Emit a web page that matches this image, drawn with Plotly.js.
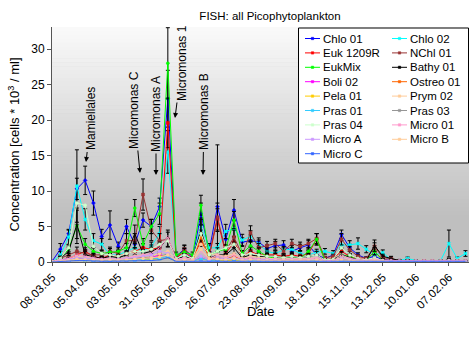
<!DOCTYPE html>
<html><head><meta charset="utf-8">
<script src="https://cdn.plot.ly/plotly-3.0.1.min.js"></script>
<style>html,body{margin:0;padding:0;background:#fff}#chart{width:471px;height:338px}</style>
</head><body><div id="chart"></div>
<script>
const dates = ['2005-03-08','2005-03-15','2005-03-22','2005-03-29','2005-04-05','2005-04-12','2005-04-19','2005-04-26','2005-05-03','2005-05-10',
'2005-05-17','2005-05-24','2005-05-31','2005-06-07','2005-06-14','2005-06-21','2005-06-28','2005-07-05','2005-07-12','2005-07-19',
'2005-07-26','2005-08-02','2005-08-09','2005-08-16','2005-08-23','2005-08-30','2005-09-06','2005-09-13','2005-09-20','2005-09-27',
'2005-10-04','2005-10-11','2005-10-18','2005-10-25','2005-11-01','2005-11-08','2005-11-15','2005-11-22','2005-11-29','2005-12-06',
'2005-12-13','2005-12-20','2005-12-27','2006-01-03','2006-01-10','2006-01-17','2006-01-24','2006-01-31','2006-02-07','2006-02-14',
'2006-02-21'];

const seriesNames = ['Chlo 01','Chlo 02','Euk 1209R','NChl 01','EukMix','Bathy 01','Boli 02','Ostreo 01','Pela 01','Prym 02','Pras 01','Pras 03','Pras 04','Micro 01','Micro A','Micro B','Micro C'];

const chlo01 = [0.1,1.8,4.0,10.3,11.5,8.3,3.6,5.2,2.2,5.0,
 2.5,5.9,5.0,7.8,23.0,0.8,1.8,0.5,6.8,1.5,
 7.8,3.2,7.3,2.8,3.0,2.8,1.9,2.3,2.4,1.5,
 2.0,2.4,1.0,0.5,1.0,3.9,2.0,1.0,0.5,0.8,
 0.3,0.2,0.1,0.1,0.1,0.1,0.1,0.1,0.2,0.1,
 0.1];
const chlo02 = [0.0,1.0,3.5,10.7,6.0,3.0,2.5,1.0,1.0,1.5,
 2.0,1.5,2.2,4.0,15.5,0.5,1.0,0.5,5.0,2.0,
 2.0,4.3,4.7,3.1,3.6,2.5,1.5,1.2,1.7,1.8,
 1.2,1.0,1.4,1.5,1.2,2.4,2.4,2.6,1.8,1.0,
 1.3,0.3,0.2,0.5,0.2,0.1,0.1,0.2,2.6,0.5,
 1.2];
const euk1209r = [0.0,0.3,0.5,1.0,1.5,0.8,0.5,1.0,0.8,1.2,
 1.5,2.0,1.8,2.0,19.6,0.5,1.5,0.4,3.0,0.8,
 6.0,1.2,2.8,0.8,1.5,1.0,1.0,1.0,0.8,1.0,
 0.8,1.2,3.2,0.3,0.5,1.5,0.8,0.5,0.3,1.5,
 0.3,0.2,0.1,0.1,0.1,0.1,0.1,0.1,0.1,0.1,
 0.1];
const nchl01 = [0.0,0.5,1.0,1.5,1.2,1.0,1.0,1.5,1.2,3.0,
 3.0,9.5,4.5,3.0,3.2,0.5,1.8,0.8,4.0,1.0,
 6.3,1.5,3.5,1.0,4.1,2.0,2.3,2.6,1.5,2.6,
 2.2,2.6,3.3,0.6,0.8,3.2,1.7,0.8,0.5,2.2,
 0.6,0.5,0.2,0.2,0.1,0.1,0.1,0.1,0.2,0.1,
 0.1];
const eukmix = [0.0,0.5,1.8,5.1,2.5,1.5,1.2,1.4,1.5,2.0,
 7.6,2.5,5.0,6.8,28.0,1.0,1.4,1.0,8.0,1.0,
 1.5,1.8,5.9,1.2,2.3,1.5,0.8,0.5,0.5,0.8,
 0.5,1.5,3.2,0.3,0.3,1.0,0.8,0.3,0.2,1.5,
 0.2,0.1,0.1,0.1,0.1,0.1,0.1,0.1,0.1,0.1,
 0.1];
const bathy01 = [0.0,0.5,1.5,5.3,1.0,0.8,0.5,0.8,0.6,1.0,
 4.0,1.2,1.5,2.0,3.3,0.4,0.8,0.4,4.5,0.5,
 1.0,1.0,2.0,0.6,1.0,0.8,0.8,0.8,0.6,0.8,
 0.6,0.8,1.0,0.3,0.3,1.0,0.6,0.3,0.2,2.3,
 0.8,0.5,0.2,0.2,0.1,0.1,0.1,0.1,0.3,0.1,
 0.1];
const boli02 = [0.0,0.1,0.2,0.5,0.4,0.3,0.2,0.3,0.2,0.3,
 0.4,0.5,0.6,1.0,0.8,0.2,0.3,0.2,0.6,0.2,
 0.4,0.3,0.5,0.2,0.3,0.2,0.2,0.2,0.2,0.2,
 0.2,0.2,0.3,0.1,0.1,0.3,0.2,0.1,0.1,0.2,
 0.1,0.1,0.0,0.0,0.0,0.0,0.0,0.0,0.1,0.0,
 0.0];
const ostreo01 = [0.0,0.1,0.2,0.4,0.3,0.2,0.2,0.3,0.2,0.4,
 0.5,0.6,0.5,0.8,1.0,0.2,0.4,0.3,3.5,0.5,
 0.6,0.4,0.8,0.3,0.5,0.3,0.3,0.3,0.2,0.3,
 0.2,0.3,0.4,0.1,0.1,0.4,0.2,0.1,0.1,0.2,
 0.1,0.0,0.0,0.0,0.0,0.0,0.0,0.0,0.0,0.0,
 0.0];
const pela01 = [0.0,0.1,0.1,0.3,0.2,0.2,0.1,0.2,0.1,0.2,
 0.3,0.3,0.3,0.4,0.6,0.1,0.2,0.1,0.5,0.2,
 0.3,0.2,0.3,0.1,0.2,0.2,0.1,0.1,0.1,0.1,
 0.1,0.1,0.2,0.1,0.1,0.2,0.1,0.1,0.0,0.1,
 0.0,0.0,0.0,0.0,0.0,0.0,0.0,0.0,0.0,0.0,
 0.0];
const prym02 = [0.0,0.2,0.3,0.8,0.6,0.4,0.3,0.5,0.3,0.6,
 0.8,1.0,0.9,1.2,1.5,0.3,0.6,0.4,2.5,1.2,
 1.0,0.8,1.2,0.5,0.8,0.6,0.5,0.5,0.4,0.5,
 0.4,0.5,0.6,0.2,0.2,0.6,0.4,0.2,0.1,0.3,
 0.1,0.1,0.0,0.0,0.0,0.0,0.0,0.0,0.1,0.0,
 0.0];
const pras01 = [0.0,0.1,0.2,0.4,0.3,0.2,0.2,0.2,0.2,0.3,
 0.3,0.4,0.4,0.5,0.8,0.1,0.2,0.1,0.5,0.2,
 0.3,0.3,0.4,0.2,0.2,0.2,0.2,0.2,0.2,0.2,
 0.1,0.2,0.2,0.1,0.1,0.2,0.2,0.1,0.1,0.1,
 0.1,0.0,0.0,0.0,0.0,0.0,0.0,0.0,0.1,0.0,
 0.0];
const pras03 = [0.0,0.1,0.3,0.6,0.5,0.3,0.2,0.3,0.2,0.4,
 0.5,0.6,0.5,0.7,1.2,0.2,0.3,0.2,0.8,0.3,
 0.5,0.4,0.6,0.2,0.4,0.3,0.3,0.3,0.2,0.3,
 0.2,0.3,0.4,0.1,0.1,0.4,0.3,0.1,0.1,0.3,
 0.1,0.1,0.0,0.0,0.0,0.0,0.0,0.0,0.1,0.0,
 0.0];
const pras04 = [0.0,0.5,2.0,8.3,8.0,2.2,1.2,1.0,0.8,1.2,
 1.5,1.5,1.8,2.5,3.0,0.5,1.0,0.5,4.0,1.0,
 1.5,2.0,2.5,1.0,1.2,1.0,0.8,0.8,0.6,0.8,
 0.6,0.8,1.0,0.3,0.4,2.0,1.0,0.5,0.3,0.6,
 0.2,0.1,0.1,0.1,0.1,0.1,0.1,0.1,0.2,0.1,
 0.1];
const micro01 = [0.1,0.3,0.5,1.0,0.8,0.6,0.4,0.5,0.4,0.6,
 0.8,1.0,1.2,2.0,3.5,0.3,0.6,0.3,1.5,0.4,
 1.0,0.6,1.0,0.4,0.6,0.4,0.4,0.4,0.3,0.4,
 0.3,0.4,0.6,0.2,0.2,1.0,0.5,0.3,0.2,0.4,
 0.2,0.2,0.2,0.2,0.2,0.2,0.2,0.2,0.2,0.2,
 0.2];
const microA = [0.0,0.2,0.3,0.6,0.5,0.4,0.3,0.4,0.3,0.5,
 0.6,0.8,1.0,1.5,1.2,0.2,0.4,0.2,0.8,0.3,
 0.6,0.4,0.6,0.3,0.4,0.3,0.3,0.3,0.2,0.3,
 0.2,0.3,0.4,0.1,0.1,0.5,0.3,0.2,0.1,0.2,
 0.1,0.1,0.1,0.1,0.1,0.1,0.1,0.1,0.1,0.1,
 0.1];
const microB = [0.0,0.1,0.2,0.4,0.3,0.3,0.2,0.3,0.2,0.3,
 0.4,0.5,0.5,0.7,1.0,0.2,0.3,0.2,1.8,0.5,
 0.4,0.3,0.5,0.2,0.3,0.2,0.2,0.2,0.2,0.2,
 0.2,0.2,0.3,0.1,0.1,0.3,0.2,0.1,0.1,0.2,
 0.1,0.0,0.0,0.0,0.0,0.0,0.0,0.0,0.0,0.0,
 0.0];
const microC = [0.0,0.1,0.1,0.2,0.2,0.1,0.1,0.1,0.1,0.1,
 0.2,0.2,0.2,0.3,0.6,0.1,0.1,0.1,0.2,0.1,
 0.2,0.1,0.2,0.1,0.1,0.1,0.1,0.1,0.1,0.1,
 0.1,0.1,0.1,0.1,0.1,0.1,0.1,0.1,0.1,0.1,
 0.1,0.1,0.1,0.1,0.1,0.1,0.1,0.1,0.1,0.1,
 0.1];

// standard deviations (error bars)
const errChlo01 = [0,0.8,0.6,1.5,2.0,1.7,1.0,2.0,0.6,1.0,
 0.6,1.0,1.0,1.2,4.0,0.3,0.5,0.2,1.5,0.4,
 8.7,0.8,1.5,0.6,0.8,0.6,0.5,0.6,0.6,0.5,
 0.5,0.6,0.5,0.2,0.3,0.6,0.5,0.3,0.2,0.3,
 0.1,0.1,0,0,0,0,0,0,0.1,0,
 0];
const errChlo02 = [0,0.5,1.0,5.1,1.5,1.0,0.8,0.5,0.4,0.5,
 0.6,0.5,0.6,1.0,3.0,0.2,0.4,0.2,1.2,0.6,
 0.6,1.0,1.2,0.8,0.8,0.6,0.5,0.4,0.5,0.5,
 0.4,0.3,0.4,0.4,0.4,0.6,0.6,0.8,0.5,0.4,
 0.4,0.1,0.1,0.2,0.1,0,0,0.1,1.9,0.2,
 0.4];
const errEuk1209r = [0,0.2,0.2,0.4,0.5,0.3,0.2,0.4,0.3,0.4,
 0.5,0.6,0.6,0.6,3.5,0.2,0.5,0.2,0.8,0.3,
 1.5,0.4,0.8,0.3,0.5,0.4,0.4,0.4,0.3,0.4,
 0.3,0.4,0.8,0.1,0.2,0.5,0.3,0.2,0.1,0.5,
 0.1,0.1,0,0,0,0,0,0,0,0,
 0];
const errNchl01 = [0,0.3,0.4,0.6,0.5,0.4,0.4,0.6,0.5,1.0,
 1.0,2.2,1.5,1.0,1.0,0.2,0.6,0.3,1.2,0.4,
 2.0,0.5,1.0,0.4,1.0,0.6,0.6,0.6,0.5,0.6,
 0.6,0.6,0.7,0.2,0.3,0.8,0.5,0.3,0.2,0.5,
 0.2,0.2,0.1,0.1,0,0,0,0,0.1,0,
 0];
const errEukmix = [0,0.3,0.6,2.5,0.8,0.5,0.4,0.5,0.5,0.6,
 1.2,0.8,1.0,1.5,5.0,0.4,0.5,0.4,1.4,0.4,
 0.5,0.6,1.2,0.4,0.6,0.5,0.3,0.2,0.2,0.3,
 0.2,0.5,0.8,0.1,0.1,0.4,0.3,0.1,0.1,0.5,
 0.1,0,0,0,0,0,0,0,0,0,
 0];
const errBathy01 = [0,0.3,0.6,2.0,0.5,0.4,0.3,0.4,0.3,0.5,
 1.2,0.5,0.6,0.8,1.2,0.2,0.4,0.2,1.5,0.3,
 0.5,0.5,0.8,0.3,0.5,0.4,0.4,0.4,0.3,0.4,
 0.3,0.4,0.5,0.1,0.1,0.5,0.3,0.1,0.1,0.8,
 0.3,0.3,0.1,0.1,0,0,0,0,0.2,0,
 0];

const seriesValues = [chlo01, chlo02, euk1209r, nchl01, eukmix, bathy01, boli02, ostreo01, pela01, prym02, pras01, pras03, pras04, micro01, microA, microB, microC];
const seriesErrors = [errChlo01, errChlo02, errEuk1209r, errNchl01, errEukmix, errBathy01, null, null, null, null, null, null, null, null, null, null, null];

const annotationLabels = ['Mamiellales','Micromonas C','Micromonas A','Micromonas 1','Micromonas B'];
const xAxisTitle = 'Date';

// ---- styles ----
const seriesColors = ['#0000ff','#00ffff','#ff0000','#993333','#00ff00','#000000','#ff00ff','#ff6600','#ffcc00','#ffcc99','#33ccff','#969696','#ccffcc','#ff99cc','#cc99ff','#ffcc99','#3366ff'];
const seriesSymbols = ['diamond','x','square','square','circle','line-ew-open','star','circle','triangle-up','circle','square','line-ew-open','circle','circle-open','circle','circle','line-ew-open'];

const W = 471, H = 338;
const L = 52, R = 469, T = 27, B = 262;
const px = x => (x - L) / (R - L);
const py = y => (B - y) / (B - T);
const FONT = 'Liberation Sans, Arial, sans-serif';

const traces = seriesValues.map((vals, i) => {
  const tr = {
    type: 'scatter', mode: 'lines+markers', x: dates, y: vals, name: seriesNames[i],
    line: {color: seriesColors[i], width: 1},
    marker: {color: seriesColors[i], size: 3, symbol: seriesSymbols[i], line: {color: seriesColors[i], width: 0.5}},
    showlegend: false, hoverinfo: 'skip', cliponaxis: true
  };
  if (seriesErrors[i]) {
    tr.error_y = {type: 'data', array: seriesErrors[i], visible: true, color: '#000', thickness: 1, width: 2};
  }
  return tr;
});

const shapes = [];
// gradient plot background
const bands = 60;
for (let i = 0; i < bands; i++) {
  const t = (i + 0.5) / bands;
  const g = Math.round(250 - (250 - 191) * Math.min(1, t / 0.8));
  shapes.push({type: 'rect', xref: 'paper', yref: 'paper', x0: 0, x1: 1,
    y0: 1 - (i + 1) / bands - 0.002, y1: 1 - i / bands,
    fillcolor: `rgb(${g},${g},${g})`, line: {width: 0}, layer: 'below'});
}
// legend box
shapes.push({type: 'rect', xref: 'paper', yref: 'paper', x0: px(298.5), x1: px(468.5), y0: py(163), y1: py(28),
  fillcolor: '#ffffff', line: {color: '#000', width: 1}, layer: 'above'});

const annotations = [];
seriesNames.forEach((name, i) => {
  const col = i % 2, row = Math.floor(i / 2);
  const lx0 = col ? 392 : 305, lx1 = lx0 + 15;
  const ly = 38.5 + 14.4 * row;
  shapes.push({type: 'line', xref: 'paper', yref: 'paper', x0: px(lx0), x1: px(lx1), y0: py(ly), y1: py(ly),
    line: {color: seriesColors[i], width: 1}, layer: 'above'});
  const mx = (lx0 + lx1) / 2;
  shapes.push({type: 'rect', xref: 'paper', yref: 'paper', x0: px(mx - 1.2), x1: px(mx + 1.2), y0: py(ly + 1.2), y1: py(ly - 1.2),
    fillcolor: seriesColors[i], line: {color: seriesColors[i], width: 0.5}, layer: 'above'});
  annotations.push({xref: 'paper', yref: 'paper', x: px(lx1 + 1), y: py(ly), text: name, showarrow: false,
    xanchor: 'left', yanchor: 'middle', font: {family: FONT, size: 11.5, color: '#000'}});
});

// labelled arrows: [tipX, tipY, centerX, centerY]
const labelPos = [[86, 162, 91, 119], [140, 173, 134, 110], [156, 175, 156, 114], [175, 118, 182, 63], [203, 175, 204, 112]];
annotationLabels.forEach((txt, i) => {
  const p = labelPos[i];
  annotations.push({xref: 'paper', yref: 'paper', x: px(p[0]), y: py(p[1]), ax: p[2] - p[0], ay: p[3] - p[1],
    text: txt, textangle: -90, showarrow: true, arrowhead: 2, arrowsize: 1, arrowwidth: 1, arrowcolor: '#000',
    standoff: 0, startstandoff: 1, font: {family: FONT, size: 12, color: '#000'}, borderpad: 0});
});

// x-axis title placed below the rotated tick labels
annotations.push({xref: 'paper', yref: 'paper', x: px(260), y: py(311), text: xAxisTitle, showarrow: false,
  xanchor: 'center', yanchor: 'middle', font: {family: FONT, size: 13, color: '#000'}});

const layout = {
  width: W, height: H,
  margin: {l: L, r: W - R, t: T, b: H - B, pad: 0},
  paper_bgcolor: '#ffffff', plot_bgcolor: '#bfbfbf',
  font: {family: FONT, size: 12, color: '#000'},
  title: {text: 'FISH: all Picophytoplankton', font: {family: FONT, size: 11.5, color: '#000'},
    xref: 'paper', x: px(270), xanchor: 'center', yref: 'container', y: 1 - 16 / H, yanchor: 'middle'},
  xaxis: {type: 'date', range: ['2005-03-07 22:00', '2006-02-24'], tickmode: 'linear', tick0: '2005-03-08', dtick: 28 * 86400000,
    tickformat: '%d.%m.%y', tickangle: -45, ticks: 'outside', ticklen: 3, tickcolor: '#555', showline: true, linecolor: '#555',
    showgrid: false, zeroline: false, tickfont: {size: 11.5}, automargin: false},
  yaxis: {range: [0, 33.1], dtick: 5, tick0: 0, ticks: 'outside', ticklen: 4, tickcolor: '#555', showline: true, linecolor: '#555',
    showgrid: false, zeroline: false, tickfont: {size: 12}, automargin: false,
    title: {text: 'Concentration [cells * 10<sup>3</sup> / ml]', font: {size: 13}, standoff: 8}},
  showlegend: false,
  shapes: shapes, annotations: annotations
};

Plotly.newPlot('chart', traces, layout, {displayModeBar: false, staticPlot: true});
</script></body></html>
